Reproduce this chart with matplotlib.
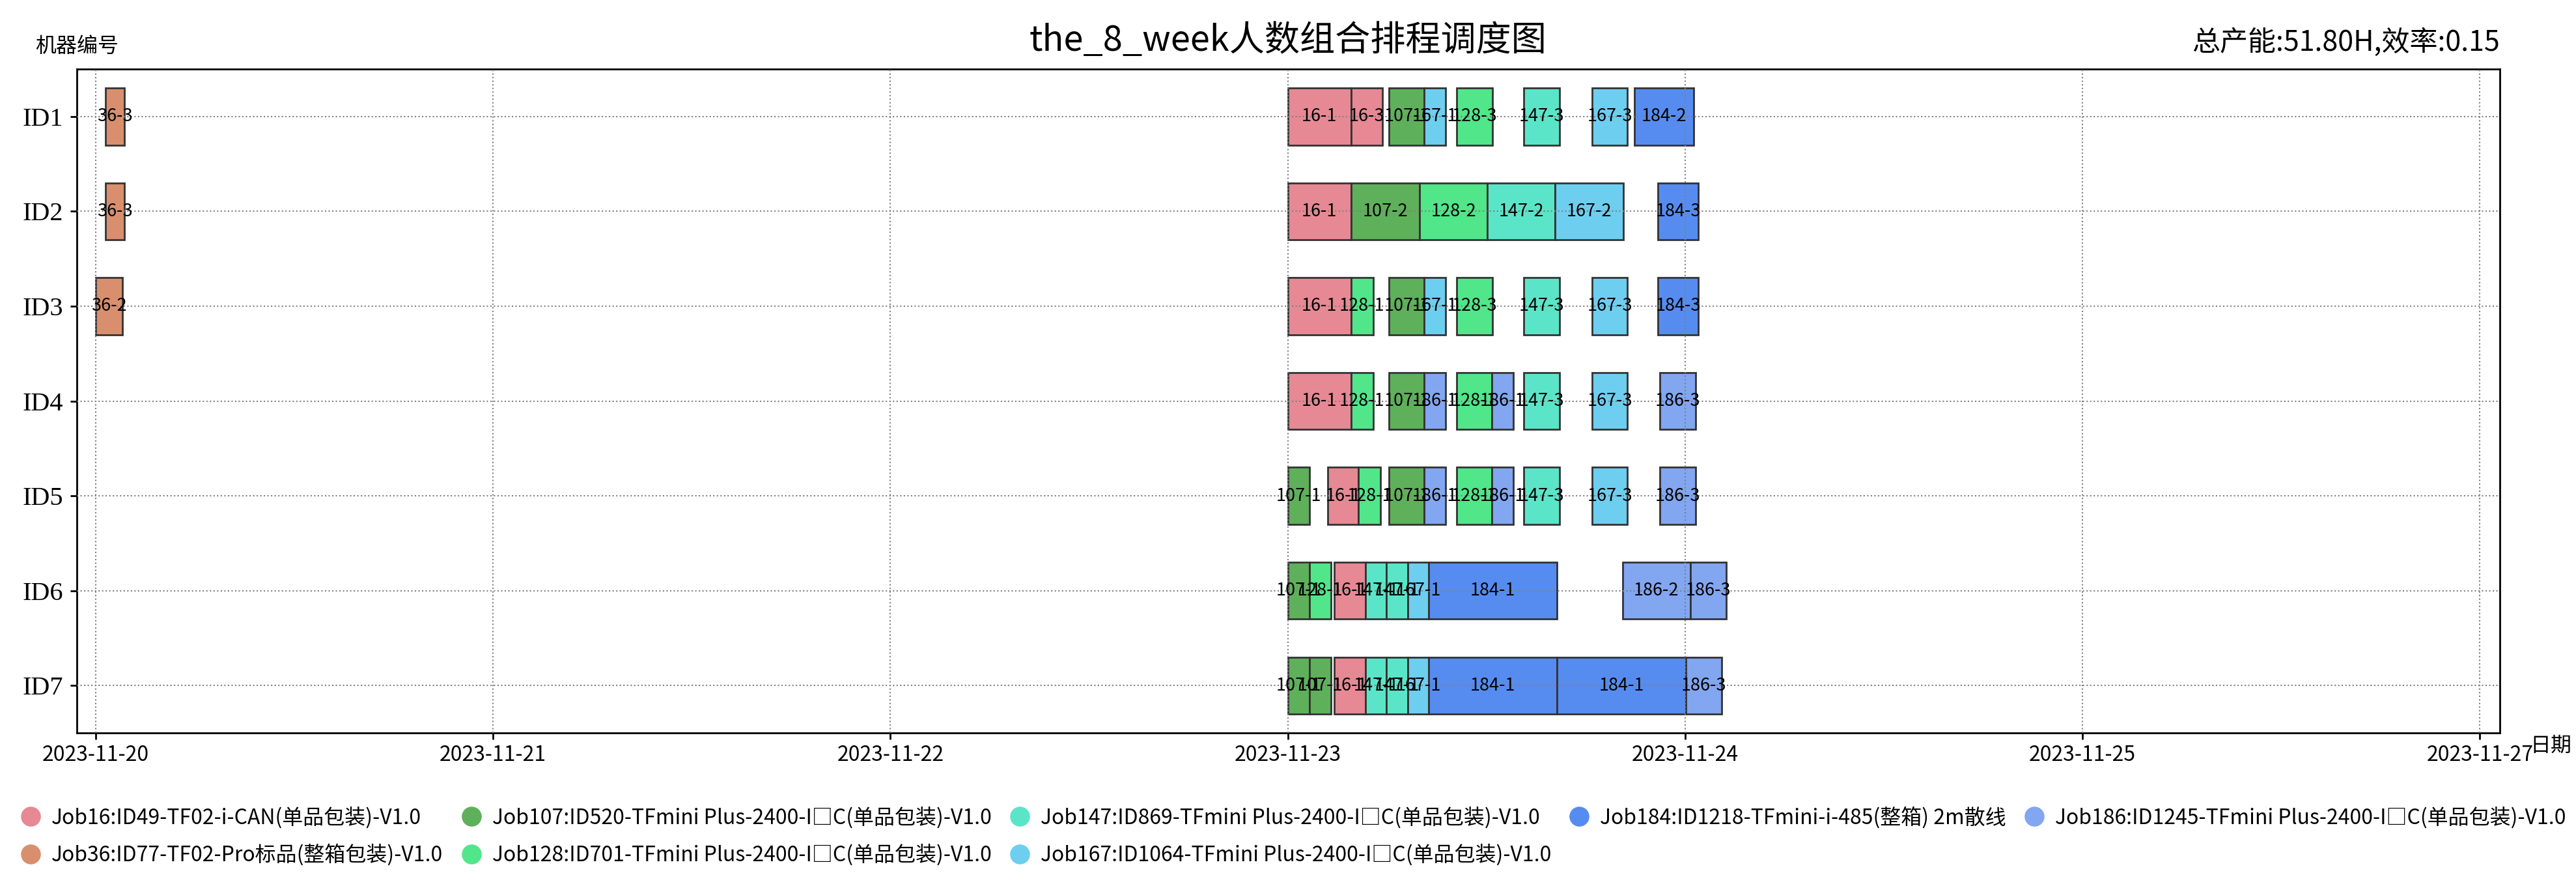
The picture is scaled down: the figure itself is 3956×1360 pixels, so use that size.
import matplotlib
matplotlib.use('Agg')
import matplotlib.pyplot as plt
from matplotlib.lines import Line2D


plt.rcParams['font.family'] = ['Noto Sans CJK SC', 'DejaVu Sans']
plt.rcParams['axes.unicode_minus'] = False

# Machines (top to bottom)
machines = ['ID1', 'ID2', 'ID3', 'ID4', 'ID5', 'ID6', 'ID7']

# Tasks per machine, times in hours from 2023-11-20 00:00
id1_labels = ['36-3', '16-1', '16-3', '107-1', '167-1', '128-3', '147-3', '167-3', '184-2']
id1_start = [0.59, 72.0, 75.82, 78.11, 80.23, 82.20, 86.27, 90.37, 92.93]
id1_end = [1.73, 75.82, 77.71, 80.23, 81.52, 84.35, 88.42, 92.51, 96.51]

id2_labels = ['36-3', '16-1', '107-2', '128-2', '147-2', '167-2', '184-3']
id2_start = [0.59, 72.0, 75.82, 79.97, 84.05, 88.14, 94.36]
id2_end = [1.73, 75.82, 79.97, 84.05, 88.14, 92.25, 96.79]

id3_labels = ['36-2', '16-1', '128-1', '107-1', '167-1', '128-3', '147-3', '167-3', '184-3']
id3_start = [0.0, 72.0, 75.82, 78.11, 80.23, 82.20, 86.27, 90.37, 94.36]
id3_end = [1.61, 75.82, 77.16, 80.23, 81.52, 84.35, 88.42, 92.51, 96.79]

id4_labels = ['16-1', '128-1', '107-1', '186-1', '128-1', '186-1', '147-3', '167-3', '186-3']
id4_start = [72.0, 75.82, 78.11, 80.23, 82.20, 84.31, 86.27, 90.37, 94.46]
id4_end = [75.82, 77.16, 80.23, 81.52, 84.31, 85.61, 88.42, 92.51, 96.63]

id5_labels = ['107-1', '16-1', '128-1', '107-1', '186-1', '128-1', '186-1', '147-3', '167-3', '186-3']
id5_start = [72.0, 74.43, 76.28, 78.11, 80.23, 82.20, 84.31, 86.27, 90.37, 94.46]
id5_end = [73.33, 76.28, 77.58, 80.23, 81.52, 84.31, 85.61, 88.42, 92.51, 96.63]

id6_labels = ['107-1', '128-1', '16-1', '147-1', '147-1', '167-1', '184-1', '186-2', '186-3']
id6_start = [72.0, 73.33, 74.82, 76.68, 77.97, 79.25, 80.51, 92.21, 96.32]
id6_end = [73.33, 74.60, 76.68, 77.97, 79.25, 80.51, 88.26, 96.32, 98.47]

id7_labels = ['107-1', '107-1', '16-1', '147-1', '147-1', '167-1', '184-1', '184-1', '186-3']
id7_start = [72.0, 73.33, 74.82, 76.68, 77.97, 79.25, 80.51, 88.26, 96.04]
id7_end = [73.33, 74.60, 76.68, 77.97, 79.25, 80.51, 88.26, 96.04, 98.19]

# Jobs, colours and legend names
jobs = ['16', '36', '107', '128', '147', '167', '184', '186']
job_colors = ['#E68994', '#D98F6D', '#5FB05A', '#50E689',
              '#5BE5C8', '#6ECEF0', '#568CF0', '#82A6F0']
job_names = ['Job16:ID49-TF02-i-CAN(单品包装)-V1.0',
             'Job36:ID77-TF02-Pro标品(整箱包装)-V1.0',
             'Job107:ID520-TFmini Plus-2400-I□C(单品包装)-V1.0',
             'Job128:ID701-TFmini Plus-2400-I□C(单品包装)-V1.0',
             'Job147:ID869-TFmini Plus-2400-I□C(单品包装)-V1.0',
             'Job167:ID1064-TFmini Plus-2400-I□C(单品包装)-V1.0',
             'Job184:ID1218-TFmini-i-485(整箱) 2m散线',
             'Job186:ID1245-TFmini Plus-2400-I□C(单品包装)-V1.0']

# Date axis
date_ticks = [0, 24, 48, 72, 96, 120, 144]
date_labels = ['2023-11-20', '2023-11-21', '2023-11-22', '2023-11-23',
               '2023-11-24', '2023-11-25', '2023-11-27']

title_name = 'the_8_week人数组合排程调度图'
info_text = '总产能:51.80H,效率:0.15'

rows = [(id1_labels, id1_start, id1_end), (id2_labels, id2_start, id2_end),
        (id3_labels, id3_start, id3_end), (id4_labels, id4_start, id4_end),
        (id5_labels, id5_start, id5_end), (id6_labels, id6_start, id6_end),
        (id7_labels, id7_start, id7_end)]


fig = plt.figure(figsize=(39.56, 13.6), dpi=100)
ax = fig.add_axes([0.0298, 0.1728, 0.9406, 0.7492])

for n, (labels, starts, ends) in enumerate(rows):
    y = n + 1
    for lab, s, e in zip(labels, starts, ends):
        color = job_colors[jobs.index(lab.split('-')[0])]
        ax.barh(y, e - s, left=s, height=0.6, color=color,
                edgecolor='#333333', linewidth=2)
        ax.text((s + e) / 2, y, lab, ha='center', va='center', fontsize=19.5)

ax.set_xlim(-1.14, 145.2)
ax.set_ylim(7.5, 0.5)
ax.set_xticks(date_ticks)
ax.set_xticklabels(date_labels, fontsize=23)
ax.set_yticks(range(1, len(machines) + 1))
ax.set_yticklabels(machines, fontsize=29, family='Liberation Serif')
ax.tick_params(axis='both', length=7, width=2)
ax.tick_params(axis='y', pad=8)
ax.tick_params(axis='x', pad=6)
for sp in ax.spines.values():
    sp.set_linewidth(2)

ax.set_axisbelow(False)
ax.grid(True, linestyle=':', color='gray', linewidth=1.5)

ax.set_title(title_name, fontsize=39, pad=24)
ax.set_title(info_text, fontsize=31, loc='right', pad=20)
ax.text(0, 1.034, '机器编号', transform=ax.transAxes, ha='center', va='center', fontsize=23)
ax.text(1.0124, -0.019, '日期', transform=ax.transAxes, ha='left', va='center', fontsize=23)

handles = [Line2D([], [], linestyle='none', marker='o', markersize=21,
                  markerfacecolor=c, markeredgecolor=c) for c in job_colors]
fig.legend(handles, job_names, loc='center', bbox_to_anchor=(0.502, 0.0563),
           ncol=5, frameon=False, fontsize=23, handlelength=1,
           handletextpad=0.5, columnspacing=0.85, labelspacing=0.75)

fig.savefig('out.png', dpi=100)
